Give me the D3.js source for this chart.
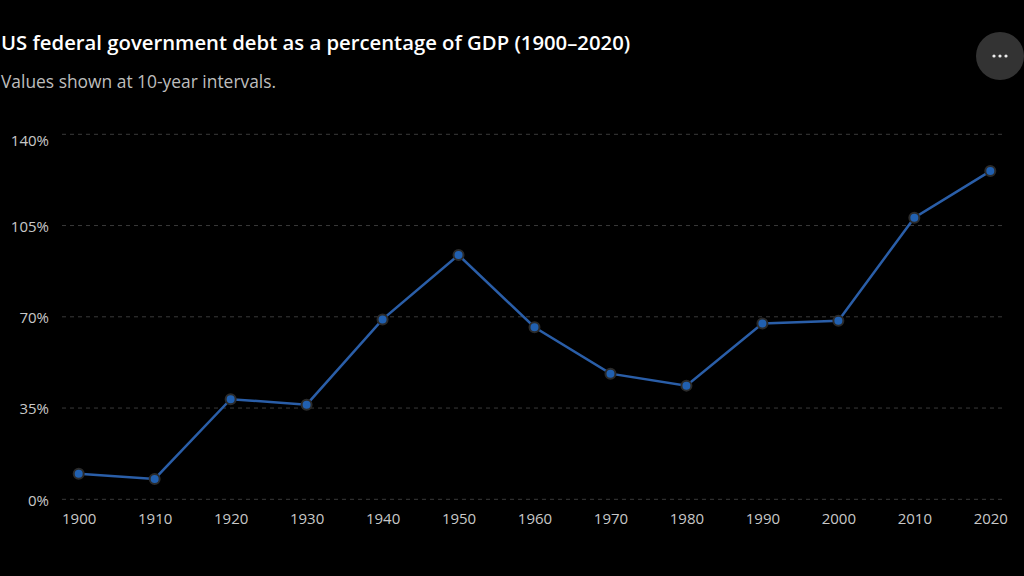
<!DOCTYPE html>
<html>
<head>
  <meta charset="utf-8">
  <script src="https://d3js.org/d3.v7.min.js"></script>
  <style>
    body { margin: 0; background: #000; }
    text { font-family: "Open Sans", "Noto Sans", sans-serif; }
  </style>
</head>
<body>
  <script>
    // Chart data
    var years = [1900, 1910, 1920, 1930, 1940, 1950, 1960, 1970, 1980, 1990, 2000, 2010, 2020];
    var debtPct = [9.8, 7.8, 38.4, 36.3, 69.0, 93.7, 66.0, 48.2, 43.6, 67.4, 68.5, 108.0, 125.9];
    var yTicks = [0, 35, 70, 105, 140];

    var width = 1024, height = 576;
    var svg = d3.select("body").append("svg")
      .attr("width", width)
      .attr("height", height);

    svg.append("rect")
      .attr("width", width)
      .attr("height", height)
      .attr("fill", "#000");

    // Header
    svg.append("text")
      .attr("x", 1)
      .attr("y", 50)
      .attr("fill", "#fff")
      .style("font-size", "20.3px")
      .style("font-weight", "600")
      .text("US federal government debt as a percentage of GDP (1900\u20132020)");

    svg.append("text")
      .attr("x", 1)
      .attr("y", 88)
      .attr("fill", "#bdbdbd")
      .style("font-size", "17.4px")
      .text("Values shown at 10-year intervals.");

    // More button
    var btn = svg.append("g").attr("transform", "translate(1000,56)");
    btn.append("circle").attr("r", 24).attr("fill", "#333");
    btn.selectAll("circle.dot")
      .data([-6, 0, 6])
      .enter()
      .append("circle")
      .attr("class", "dot")
      .attr("cx", function(d) { return d; })
      .attr("r", 1.6)
      .attr("fill", "#eee");

    // Scales
    var x = d3.scalePoint()
      .domain(years)
      .range([78.7, 990.3]);

    var y = d3.scaleLinear()
      .domain([0, 140])
      .range([499.3, 134.3]);

    // Grid lines
    svg.append("g")
      .selectAll("line")
      .data(yTicks)
      .enter()
      .append("line")
      .attr("x1", 62)
      .attr("x2", 1003)
      .attr("y1", function(d) { return y(d); })
      .attr("y2", function(d) { return y(d); })
      .attr("stroke", "#3a3a3a")
      .attr("stroke-width", 1)
      .attr("stroke-dasharray", "4,4");

    // Y axis labels
    var yAxis = d3.axisLeft(y)
      .tickValues(yTicks)
      .tickSize(0)
      .tickPadding(0)
      .tickFormat(function(d) { return d + "%"; });

    var gy = svg.append("g")
      .attr("transform", "translate(49,0)")
      .call(yAxis);
    gy.select(".domain").remove();
    gy.selectAll("text")
      .attr("fill", "#c8c8c8")
      .style("font-size", "15px")
      .style("font-family", "\"Open Sans\", sans-serif");
    // top label is pushed down a bit, the others sit on their line
    gy.selectAll(".tick")
      .filter(function(d) { return d === 140; })
      .select("text")
      .attr("dy", "0.32em")
      .attr("y", 6);
    gy.selectAll(".tick")
      .filter(function(d) { return d !== 140; })
      .select("text")
      .attr("y", 1);

    // X axis labels
    var xAxis = d3.axisBottom(x)
      .tickSize(0)
      .tickPadding(0);

    var gx = svg.append("g")
      .attr("transform", "translate(0,513)")
      .call(xAxis);
    gx.select(".domain").remove();
    gx.selectAll("text")
      .attr("fill", "#c8c8c8")
      .style("font-size", "15px")
      .style("font-family", "\"Open Sans\", sans-serif");

    // Line
    var data = years.map(function(yr, i) { return { year: yr, value: debtPct[i] }; });

    var line = d3.line()
      .x(function(d) { return x(d.year); })
      .y(function(d) { return y(d.value); });

    svg.append("path")
      .datum(data)
      .attr("d", line)
      .attr("fill", "none")
      .attr("stroke", "#2a5ea8")
      .attr("stroke-width", 2.5);

    // Points
    svg.selectAll("circle.pt")
      .data(data)
      .enter()
      .append("circle")
      .attr("class", "pt")
      .attr("cx", function(d) { return x(d.year); })
      .attr("cy", function(d) { return y(d.value); })
      .attr("r", 5)
      .attr("fill", "#2160b0")
      .attr("stroke", "#2b2b2b")
      .attr("stroke-width", 2);
  </script>
</body>
</html>
